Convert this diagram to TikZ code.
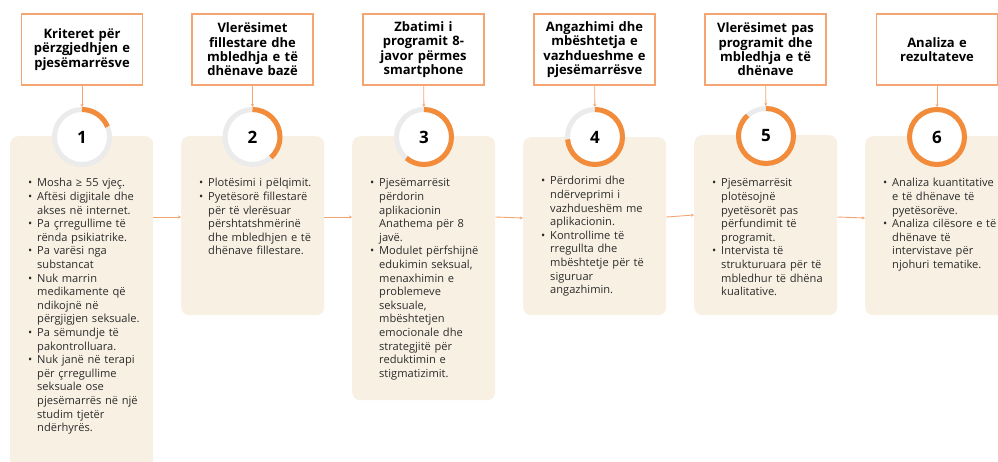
\documentclass[tikz,border=0pt]{standalone}
\usepackage{fontspec}
\setmainfont{Open Sans}
\usepackage{tikz}
\usetikzlibrary{arrows.meta,positioning}

\definecolor{tborder}{HTML}{F5A572}
\definecolor{arcorange}{HTML}{F28C3A}
\definecolor{ringgrey}{HTML}{EBEBEB}
\definecolor{boxfill}{HTML}{F8F0E3}
\definecolor{bodyink}{HTML}{2B2B2B}

% compact bullet list for the stage boxes
\newenvironment{bullets}{\begin{list}{\textbullet}{\setlength\leftmargin{13pt}%
    \setlength\labelwidth{8pt}\setlength\labelsep{5pt}\setlength\itemsep{0pt}%
    \setlength\parsep{0pt}\setlength\topsep{0pt}\setlength\partopsep{0pt}}}%
    {\end{list}}

\begin{document}
\begin{tikzpicture}[x=1pt, y=1pt,
    titlebox/.style={draw=tborder, line width=1.1pt, fill=white, minimum width=121pt,
        minimum height=71pt, text width=118pt, align=center, inner sep=1pt,
        font=\bfseries\fontsize{13}{14.3}\selectfont},
    stagebox/.style={fill=boxfill, rounded corners=8pt, minimum width=143pt,
        anchor=north west, inner sep=0pt},
    stagetext/.style={text width=126pt, anchor=north west, inner sep=0pt,
        text=bodyink, font=\raggedright\fontsize{11.1}{13.6}\selectfont},
    ring/.style={circle, draw=ringgrey, line width=5pt, fill=white, minimum size=55pt,
        inner sep=0pt, font=\bfseries\fontsize{17}{17}\selectfont},
    progress/.style={draw=arcorange, line width=5pt},
    flow/.style={draw=tborder, line width=0.9pt, -{Stealth[length=3pt,width=3pt]}}]

    \useasboundingbox (0,0) rectangle (998,-461);

    % Stage boxes (behind the rings)
    \node[stagebox, minimum height=334pt] (b1) at (10,-136) {};
    \node[stagebox, minimum height=179pt] (b2) at (181,-136) {};
    \node[stagebox, minimum height=264pt] (b3) at (352,-136) {};
    \node[stagebox, minimum height=178pt] (b4) at (523,-137) {};
    \node[stagebox, minimum height=180pt] (b5) at (694,-135) {};
    \node[stagebox, minimum height=179pt] (b6) at (865,-136) {};

    % Titles
    \node[titlebox] (t1) at (82,-49.5) {Kriteret për\\përzgjedhjen e\\pjesëmarrësve};
    \node[titlebox] (t2) at (252.5,-49.5) {Vlerësimet\\fillestare dhe\\mbledhja e të\\dhënave bazë};
    \node[titlebox] (t3) at (423.5,-49.5) {Zbatimi i\\programit 8-\\javor përmes\\smartphone};
    \node[titlebox] (t4) at (594.5,-49.5) {Angazhimi dhe\\mbështetja e\\vazhdueshme e\\pjesëmarrësve};
    \node[titlebox] (t5) at (765.5,-49.5) {Vlerësimet pas\\programit dhe\\mbledhja e të\\dhënave};
    \node[titlebox] (t6) at (937,-49.5) {Analiza e\\rezultateve};

    % Rings with progress
    \node[ring] (c1) at (82,-137) {1};
    \node[ring] (c2) at (252.5,-137) {2};
    \node[ring] (c3) at (424,-137) {3};
    \node[ring] (c4) at (595,-137) {4};
    \node[ring] (c5) at (766,-136) {5};
    \node[ring] (c6) at (937,-137) {6};
    \draw[progress] (c1.center) ++(90:27.5) arc[start angle=90, delta angle=-68, radius=27.5];
    \draw[progress] (c2.center) ++(90:27.5) arc[start angle=90, delta angle=-138, radius=27.5];
    \draw[progress] (c3.center) ++(90:27.5) arc[start angle=90, delta angle=-220, radius=27.5];
    \draw[progress] (c4.center) ++(90:27.5) arc[start angle=90, delta angle=-265, radius=27.5];
    \draw[progress] (c5.center) ++(90:27.5) arc[start angle=90, delta angle=-318, radius=27.5];
    \draw[progress] (c6.center) circle[radius=27.5];

    % Stage texts
    \node[stagetext] (s1) at ([xshift=14pt,yshift=-37pt]b1.north west)
        {\begin{bullets}
         \item Mosha ≥ 55 vjeç.
         \item Aftësi digjitale dhe\\akses në internet.
         \item Pa çrregullime të\\rënda psikiatrike.
         \item Pa varësi nga\\substancat
         \item Nuk marrin\\medikamente që\\ndikojnë në\\përgjigjen seksuale.
         \item Pa sëmundje të\\pakontrolluara.
         \item Nuk janë në terapi\\për çrregullime\\seksuale ose\\pjesëmarrës në një\\studim tjetër\\ndërhyrës.
         \end{bullets}};
    \node[stagetext] (s2) at ([xshift=14pt,yshift=-37pt]b2.north west)
        {\begin{bullets}
         \item Plotësimi i pëlqimit.
         \item Pyetësorë fillestarë\\për të vlerësuar\\përshtatshmërinë\\dhe mbledhjen e të\\dhënave fillestare.
         \end{bullets}};
    \node[stagetext] (s3) at ([xshift=14pt,yshift=-37pt]b3.north west)
        {\begin{bullets}
         \item Pjesëmarrësit\\përdorin\\aplikacionin\\Anathema për 8\\javë.
         \item Modulet përfshijnë\\edukimin seksual,\\menaxhimin e\\problemeve\\seksuale,\\mbështetjen\\emocionale dhe\\strategjitë për\\reduktimin e\\stigmatizimit.
         \end{bullets}};
    \node[stagetext] (s4) at ([xshift=14pt,yshift=-34pt]b4.north west)
        {\begin{bullets}
         \item Përdorimi dhe\\ndërveprimi i\\vazhdueshëm me\\aplikacionin.
         \item Kontrollime të\\rregullta dhe\\mbështetje për të\\siguruar\\angazhimin.
         \end{bullets}};
    \node[stagetext] (s5) at ([xshift=14pt,yshift=-38pt]b5.north west)
        {\begin{bullets}
         \item Pjesëmarrësit\\plotësojnë\\pyetësorët pas\\përfundimit të\\programit.
         \item Intervista të\\strukturuara për të\\mbledhur të dhëna\\kualitative.
         \end{bullets}};
    \node[stagetext] (s6) at ([xshift=14pt,yshift=-37pt]b6.north west)
        {\begin{bullets}
         \item Analiza kuantitative\\e të dhënave të\\pyetësorëve.
         \item Analiza cilësore e të\\dhënave të\\intervistave për\\njohuri tematike.
         \end{bullets}};

    % Arrows title -> ring
    \draw[flow] (t1) -- (c1);
    \draw[flow] (t2) -- (c2);
    \draw[flow] (t3) -- (c3);
    \draw[flow] (t4) -- (c4);
    \draw[flow] (t5) -- (c5);
    \draw[flow] (t6) -- (c6);

    % Arrows between stages
    \draw[flow] ([yshift=-81pt]b1.north east) -- ([yshift=-81pt]b2.north west);
    \draw[flow] ([yshift=-81pt]b2.north east) -- ([yshift=-81pt]b3.north west);
    \draw[flow] ([yshift=-81pt]b3.north east) -- ([yshift=-81pt]b4.north west -| b4.west);
    \draw[flow] ([yshift=-80pt]b4.north east) -- ([yshift=-80pt]b5.north west -| b5.west);
    \draw[flow] ([yshift=-82pt]b5.north east) -- ([yshift=-82pt]b6.north west -| b6.west);
\end{tikzpicture}
\end{document}
